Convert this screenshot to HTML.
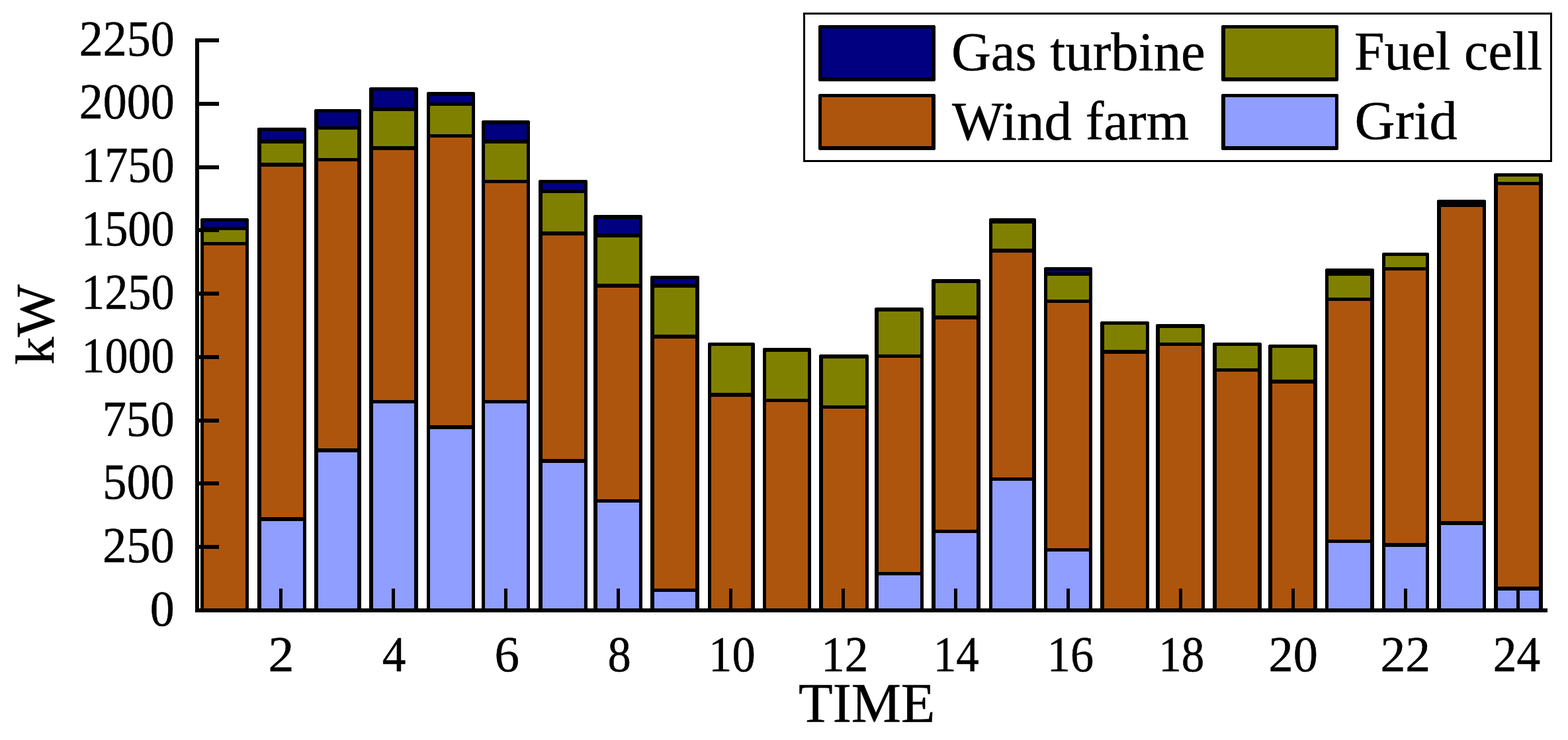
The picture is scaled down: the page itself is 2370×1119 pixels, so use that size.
<!DOCTYPE html>
<html><head><meta charset="utf-8"><title>Stacked bar chart: Gas turbine, Fuel cell, Wind farm, Grid (kW vs TIME)</title>
<style>
html,body{margin:0;padding:0;background:#fff;}
body{width:2370px;height:1119px;overflow:hidden;}
svg{display:block;}
text{font-family:"Liberation Serif","Times New Roman",Times,serif;fill:#000;stroke:#000;stroke-width:0.5px;}
</style></head>
<body>
<svg width="2370" height="1119" viewBox="0 0 2370 1119">
<rect width="2370" height="1119" fill="#fff"/>
<g shape-rendering="crispEdges" fill="#000">
<path d="M303 331.6L304.6 330H374.4L376 331.6V920H303Z"/>
<rect x="308" y="335" width="63" height="8" fill="#000080"/>
<rect x="308" y="348" width="63" height="18" fill="#808000"/>
<rect x="308" y="371" width="63" height="549" fill="#AE550D"/>
<path d="M389 194.6L390.6 193H461.4L463 194.6V920H389Z"/>
<rect x="395" y="198" width="63" height="13" fill="#000080"/>
<rect x="395" y="217" width="63" height="29" fill="#808000"/>
<rect x="395" y="252" width="63" height="530" fill="#AE550D"/>
<rect x="395" y="788" width="63" height="132" fill="#8F9EFF"/>
<path d="M475 166.6L476.6 165H544.4L546 166.6V920H475Z"/>
<rect x="481" y="170" width="59" height="21" fill="#000080"/>
<rect x="481" y="196" width="59" height="43" fill="#808000"/>
<rect x="481" y="244" width="59" height="434" fill="#AE550D"/>
<rect x="481" y="684" width="59" height="236" fill="#8F9EFF"/>
<path d="M558 133.6L559.6 132H630.4L632 133.6V920H558Z"/>
<rect x="564" y="137" width="62" height="25" fill="#000080"/>
<rect x="564" y="168" width="62" height="53" fill="#808000"/>
<rect x="564" y="227" width="62" height="378" fill="#AE550D"/>
<rect x="564" y="610" width="62" height="310" fill="#8F9EFF"/>
<path d="M645 140.6L646.6 139H716.4L718 140.6V920H645Z"/>
<rect x="650" y="145" width="63" height="10" fill="#000080"/>
<rect x="650" y="160" width="63" height="43" fill="#808000"/>
<rect x="650" y="208" width="63" height="435" fill="#AE550D"/>
<rect x="650" y="649" width="63" height="271" fill="#8F9EFF"/>
<path d="M728 183.6L729.6 182H799.4L801 183.6V920H728Z"/>
<rect x="733" y="188" width="63" height="23" fill="#000080"/>
<rect x="733" y="217" width="63" height="55" fill="#808000"/>
<rect x="733" y="277" width="63" height="328" fill="#AE550D"/>
<rect x="733" y="610" width="63" height="310" fill="#8F9EFF"/>
<path d="M814 273.6L815.6 272H886.4L888 273.6V920H814Z"/>
<rect x="820" y="277" width="63" height="10" fill="#000080"/>
<rect x="820" y="292" width="63" height="58" fill="#808000"/>
<rect x="820" y="356" width="63" height="338" fill="#AE550D"/>
<rect x="820" y="700" width="63" height="220" fill="#8F9EFF"/>
<path d="M897 326.6L898.6 325H969.4L971 326.6V920H897Z"/>
<rect x="903" y="331" width="63" height="22" fill="#000080"/>
<rect x="903" y="359" width="63" height="70" fill="#808000"/>
<rect x="903" y="435" width="63" height="320" fill="#AE550D"/>
<rect x="903" y="760" width="63" height="160" fill="#8F9EFF"/>
<path d="M983 418.6L984.6 417H1055.4L1057 418.6V920H983Z"/>
<rect x="989" y="422" width="62" height="7" fill="#000080"/>
<rect x="989" y="435" width="62" height="71" fill="#808000"/>
<rect x="989" y="512" width="62" height="378" fill="#AE550D"/>
<rect x="989" y="895" width="62" height="25" fill="#8F9EFF"/>
<path d="M1070 519.6L1071.6 518H1139.4L1141 519.6V920H1070Z"/>
<rect x="1075" y="523" width="60" height="71" fill="#808000"/>
<rect x="1075" y="600" width="60" height="320" fill="#AE550D"/>
<path d="M1153 527.6L1154.6 526H1224.4L1226 527.6V920H1153Z"/>
<rect x="1158" y="532" width="63" height="71" fill="#808000"/>
<rect x="1158" y="608" width="63" height="312" fill="#AE550D"/>
<path d="M1238 537.6L1239.6 536H1311.4L1313 537.6V920H1238Z"/>
<rect x="1244" y="542" width="64" height="71" fill="#808000"/>
<rect x="1244" y="618" width="64" height="302" fill="#AE550D"/>
<path d="M1322 466.6L1323.6 465H1394.4L1396 466.6V920H1322Z"/>
<rect x="1328" y="471" width="63" height="65" fill="#808000"/>
<rect x="1328" y="541" width="63" height="324" fill="#AE550D"/>
<rect x="1328" y="870" width="63" height="50" fill="#8F9EFF"/>
<path d="M1408 423.6L1409.6 422H1480.4L1482 423.6V920H1408Z"/>
<rect x="1414" y="428" width="62" height="49" fill="#808000"/>
<rect x="1414" y="483" width="62" height="318" fill="#AE550D"/>
<rect x="1414" y="806" width="62" height="114" fill="#8F9EFF"/>
<path d="M1495 331.6L1496.6 330H1564.4L1566 331.6V920H1495Z"/>
<rect x="1500" y="338" width="60" height="38" fill="#808000"/>
<rect x="1500" y="382" width="60" height="340" fill="#AE550D"/>
<rect x="1500" y="727" width="60" height="193" fill="#8F9EFF"/>
<path d="M1578 405.6L1579.6 404H1649.4L1651 405.6V920H1578Z"/>
<rect x="1583" y="409" width="63" height="3" fill="#000080"/>
<rect x="1583" y="417" width="63" height="36" fill="#808000"/>
<rect x="1583" y="458" width="63" height="371" fill="#AE550D"/>
<rect x="1583" y="834" width="63" height="86" fill="#8F9EFF"/>
<path d="M1663 487.6L1664.6 486H1735.4L1737 487.6V920H1663Z"/>
<rect x="1669" y="491" width="63" height="38" fill="#808000"/>
<rect x="1669" y="535" width="63" height="385" fill="#AE550D"/>
<path d="M1747 491.6L1748.6 490H1819.4L1821 491.6V920H1747Z"/>
<rect x="1753" y="496" width="63" height="22" fill="#808000"/>
<rect x="1753" y="523" width="63" height="397" fill="#AE550D"/>
<path d="M1833 519.6L1834.6 518H1905.4L1907 519.6V920H1833Z"/>
<rect x="1839" y="523" width="62" height="34" fill="#808000"/>
<rect x="1839" y="562" width="62" height="358" fill="#AE550D"/>
<path d="M1917 522.6L1918.6 521H1989.4L1991 522.6V920H1917Z"/>
<rect x="1923" y="526" width="62" height="48" fill="#808000"/>
<rect x="1923" y="580" width="62" height="340" fill="#AE550D"/>
<path d="M2003 407.6L2004.6 406H2075.4L2077 407.6V920H2003Z"/>
<rect x="2008" y="417" width="63" height="33" fill="#808000"/>
<rect x="2008" y="455" width="63" height="361" fill="#AE550D"/>
<rect x="2008" y="821" width="63" height="99" fill="#8F9EFF"/>
<path d="M2089 383.6L2090.6 382H2158.4L2160 383.6V920H2089Z"/>
<rect x="2094" y="387" width="61" height="17" fill="#808000"/>
<rect x="2094" y="409" width="61" height="412" fill="#AE550D"/>
<rect x="2094" y="827" width="61" height="93" fill="#8F9EFF"/>
<path d="M2172 303.6L2173.6 302H2244.4L2246 303.6V920H2172Z"/>
<rect x="2178" y="313" width="63" height="475" fill="#AE550D"/>
<rect x="2178" y="794" width="63" height="126" fill="#8F9EFF"/>
<path d="M2258 263.6L2259.6 262H2330.4L2332 263.6V920H2258Z"/>
<rect x="2264" y="267" width="62" height="8" fill="#808000"/>
<rect x="2264" y="280" width="62" height="607" fill="#AE550D"/>
<rect x="2264" y="893" width="62" height="27" fill="#8F9EFF"/>
<rect x="295" y="58" width="6" height="868"/>
<rect x="295" y="920" width="2044" height="6"/>
<rect x="295" y="824.22" width="36" height="6"/>
<rect x="295" y="728.44" width="36" height="6"/>
<rect x="295" y="632.66" width="36" height="6"/>
<rect x="295" y="536.88" width="36" height="6"/>
<rect x="295" y="441.10" width="36" height="6"/>
<rect x="295" y="345.32" width="36" height="6"/>
<rect x="295" y="249.54" width="36" height="6"/>
<rect x="295" y="153.76" width="36" height="6"/>
<rect x="295" y="57.98" width="36" height="6"/>
<rect x="422.00" y="890" width="5" height="30"/>
<rect x="592.00" y="890" width="5" height="30"/>
<rect x="762.00" y="890" width="5" height="30"/>
<rect x="932.00" y="890" width="5" height="30"/>
<rect x="1102.00" y="890" width="5" height="30"/>
<rect x="1272.00" y="890" width="5" height="30"/>
<rect x="1442.00" y="890" width="5" height="30"/>
<rect x="1612.00" y="890" width="5" height="30"/>
<rect x="1782.00" y="890" width="5" height="30"/>
<rect x="1952.00" y="890" width="5" height="30"/>
<rect x="2122.00" y="890" width="5" height="30"/>
<rect x="2292.00" y="890" width="5" height="30"/>
<rect x="1215.5" y="20.5" width="1129" height="223" fill="none" stroke="#000" stroke-width="3"/>
<path d="M1237 39.6L1238.6 38H1412.4L1414 39.6V121.4L1412.4 123H1238.6L1237 121.4Z"/>
<rect x="1242" y="43" width="166" height="74" fill="#000080"/>
<path d="M1237 143.6L1238.6 142H1412.4L1414 143.6V225.4L1412.4 227H1238.6L1237 225.4Z"/>
<rect x="1242" y="147" width="166" height="74" fill="#AE550D"/>
<path d="M1846 39.6L1847.6 38H2021.4L2023 39.6V121.4L2021.4 123H1847.6L1846 121.4Z"/>
<rect x="1852" y="43" width="166" height="74" fill="#808000"/>
<path d="M1846 143.6L1847.6 142H2021.4L2023 143.6V225.4L2021.4 227H1847.6L1846 225.4Z"/>
<rect x="1852" y="147" width="166" height="74" fill="#8F9EFF"/>
</g>
<g>
<text transform="translate(226.78,945.96) scale(0.9861,1.0100)" font-size="75">0</text>
<text transform="translate(155.09,849.61) scale(0.9657,1.0100)" font-size="75">250</text>
<text transform="translate(155.31,754.44) scale(0.9642,1.0100)" font-size="75">500</text>
<text transform="translate(154.39,658.68) scale(0.9730,1.0100)" font-size="75">750</text>
<text transform="translate(123.36,562.60) scale(0.9351,1.0100)" font-size="75">1000</text>
<text transform="translate(123.06,466.87) scale(0.9375,1.0100)" font-size="75">1250</text>
<text transform="translate(122.93,371.03) scale(0.9388,1.0100)" font-size="75">1500</text>
<text transform="translate(122.99,275.48) scale(0.9385,1.0100)" font-size="75">1750</text>
<text transform="translate(119.67,179.25) scale(0.9601,1.0100)" font-size="75">2000</text>
<text transform="translate(119.70,83.52) scale(0.9600,1.0100)" font-size="75">2250</text>
<text transform="translate(405.54,1015.33) scale(1.0384,1.0100)" font-size="75">2</text>
<text transform="translate(577.66,1014.75) scale(0.9509,1.0100)" font-size="75">4</text>
<text transform="translate(747.44,1014.68) scale(1.0001,1.0100)" font-size="75">6</text>
<text transform="translate(918.38,1014.63) scale(0.9401,1.0100)" font-size="75">8</text>
<text transform="translate(1071.11,1014.73) scale(0.9420,1.0100)" font-size="75">10</text>
<text transform="translate(1241.20,1015.33) scale(0.9474,1.0100)" font-size="75">12</text>
<text transform="translate(1410.74,1014.86) scale(0.9232,1.0100)" font-size="75">14</text>
<text transform="translate(1582.78,1014.68) scale(0.9374,1.0100)" font-size="75">16</text>
<text transform="translate(1751.21,1014.65) scale(0.9235,1.0100)" font-size="75">18</text>
<text transform="translate(1917.55,1014.74) scale(0.9916,1.0100)" font-size="75">20</text>
<text transform="translate(2086.42,1015.33) scale(1.0093,1.0100)" font-size="75">22</text>
<text transform="translate(2256.81,1015.31) scale(0.9523,1.0100)" font-size="75">24</text>
<text transform="translate(1207.09,1092.11) scale(1.0051,1.0150)" font-size="84">TIME</text>
<text transform="translate(80.82,551.43) rotate(-90) scale(1.0013,0.9781)" font-size="84">kW</text>
<text transform="translate(1437.88,105.77) scale(0.9856,0.9900)" font-size="84">Gas turbine</text>
<text transform="translate(1439.01,211.21) scale(0.9873,0.9900)" font-size="84">Wind farm</text>
<text transform="translate(2046.92,105.43) scale(0.9757,0.9900)" font-size="84">Fuel cell</text>
<text transform="translate(2047.62,210.29) scale(1.0076,0.9900)" font-size="84">Grid</text>
</g>
</svg>
</body></html>
